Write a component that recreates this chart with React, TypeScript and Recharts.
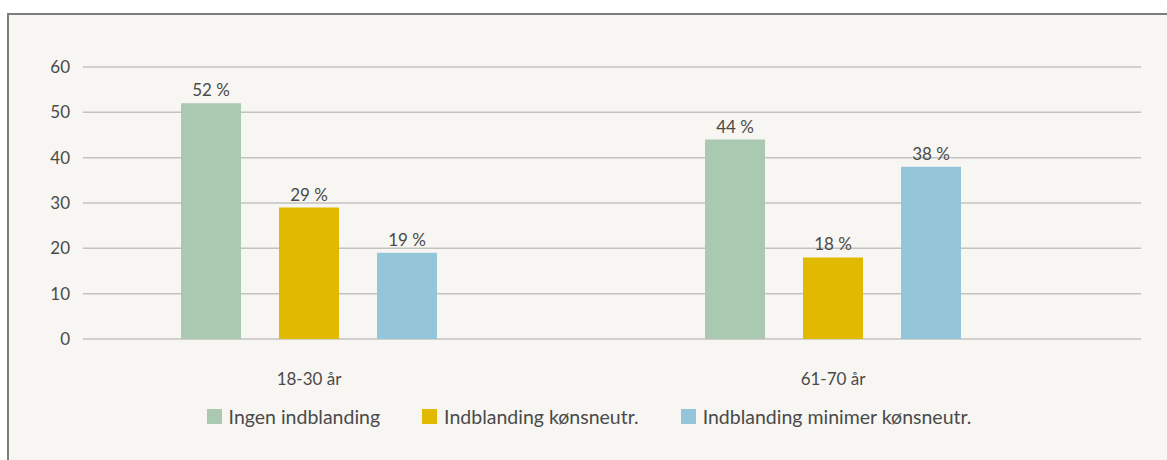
import { BarChart, Bar, XAxis, YAxis, CartesianGrid, Legend, LabelList } from "recharts";

const categories = ["18-30 år", "61-70 år"];
const ingen = [52, 44];
const koensneutr = [29, 18];
const minimer = [19, 38];
const yTicks = [0, 10, 20, 30, 40, 50, 60];

const SERIES = [
  { key: "ingen", name: "Ingen indblanding", color: "#abc8b0" },
  { key: "koensneutr", name: "Indblanding kønsneutr.", color: "#e0b900" },
  { key: "minimer", name: "Indblanding minimer kønsneutr.", color: "#94c5d8" },
];

const data = categories.map((c, i) => ({
  name: c,
  ingen: ingen[i],
  koensneutr: koensneutr[i],
  minimer: minimer[i],
}));

const TEXT = "#4a4a4a";
const FONT = "Lato, 'Open Sans', sans-serif";

const LegendContent = () => (
  <div style={{ display: "flex", justifyContent: "center", alignItems: "center", paddingLeft: 28, fontFamily: FONT, fontSize: 19.5, color: TEXT }}>
    {SERIES.map(s => (
      <div key={s.key} style={{ display: "flex", alignItems: "center", margin: "0 21px" }}>
        <span style={{ width: 15, height: 15, background: s.color, marginRight: 7, display: "inline-block" }} />
        <span>{s.name}</span>
      </div>
    ))}
  </div>
);

const App = () => {
  return (
    <div
      style={{
        position: "absolute",
        left: 7,
        top: 13,
        width: 1160,
        height: 447,
        borderTop: "2px solid #7d7d7d",
        borderLeft: "2px solid #7d7d7d",
        background: "#f7f6f2",
        boxSizing: "border-box",
      }}
    >
      <BarChart
        width={1158}
        height={445}
        data={data}
        margin={{ top: 52, right: 26, bottom: 31, left: 0 }}
        barSize={60}
        barGap={38}
        style={{ fontFamily: FONT }}
      >
        <CartesianGrid vertical={false} stroke="#c4c2be" strokeWidth={1.5} />
        <XAxis
          dataKey="name"
          axisLine={false}
          tickLine={false}
          tickSize={0}
          tickMargin={34}
          height={66}
          padding={{ left: -36, right: 46 }}
          tick={{ fontSize: 17, fill: TEXT }}
        />
        <YAxis
          domain={[0, 60]}
          ticks={yTicks}
          axisLine={false}
          tickLine={false}
          tickSize={0}
          tickMargin={13}
          width={74}
          tick={{ fontSize: 17, fill: TEXT }}
        />
        <Legend verticalAlign="bottom" height={24} content={<LegendContent />} />
        {SERIES.map(s => (
          <Bar key={s.key} dataKey={s.key} name={s.name} fill={s.color} isAnimationActive={false}>
            <LabelList
              dataKey={s.key}
              position="top"
              offset={7}
              formatter={(v: number) => `${v} %`}
              style={{ fontSize: 17, fill: TEXT, fontFamily: FONT }}
            />
          </Bar>
        ))}
      </BarChart>
    </div>
  );
};

export default App;
